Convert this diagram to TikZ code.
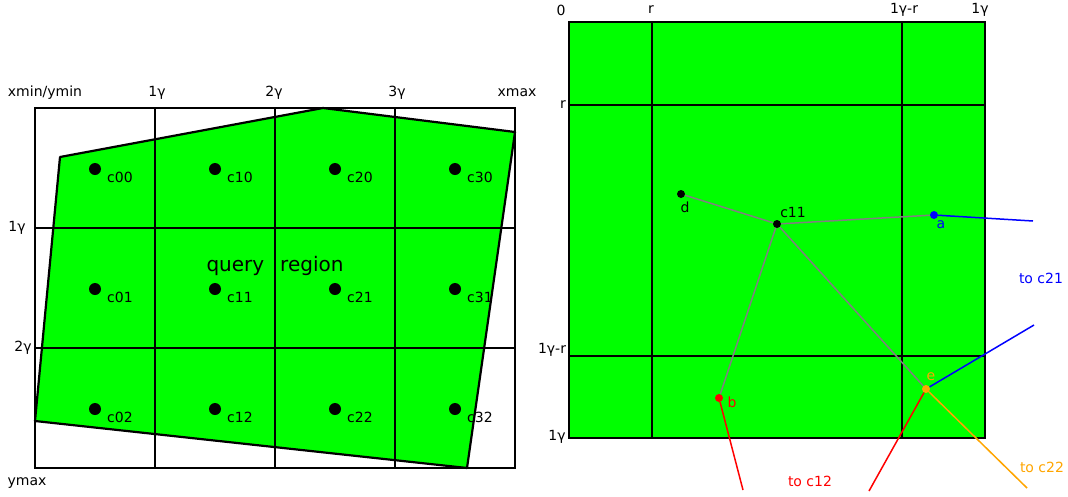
\documentclass[tikz,border=0pt]{standalone}
\usepackage{fontspec}
\setmainfont{DejaVu Sans}
\definecolor{qgreen}{RGB}{0,255,0}
\definecolor{qorange}{RGB}{255,165,0}
\begin{document}
\begin{tikzpicture}[x=1pt,y=-1pt,
  lbl/.style={font=\fontsize{14}{14}\selectfont, inner sep=0pt},
  bigdot/.style={circle, fill=black, minimum size=12pt, inner sep=0pt},
  smalldot/.style={circle, minimum size=8pt, inner sep=0pt},
  gridline/.style={line width=2.2pt, black},
  link/.style={line width=1.5pt, gray},
  outline/.style={line width=2.7pt, black}]
\useasboundingbox (0,0) rectangle (1068,496);
% ---------- left panel ----------
\fill[qgreen] (60,157) -- (323,108) -- (515,132) -- (467,468) -- (35,421) -- cycle;
\foreach \x in {155,275,395} \draw[gridline] (\x,108) -- (\x,468);
\foreach \y in {228,348} \draw[gridline] (35,\y) -- (515,\y);
\draw[outline] (35,108) rectangle (515,468);
\draw[line width=2.2pt, line join=round] (60,157) -- (323,108) -- (515,132) -- (467,468) -- (35,421) -- cycle;
\foreach \i/\x in {0/95,1/215,2/335,3/455}{
  \foreach \j/\y in {0/169,1/289,2/409}{
    \node[bigdot] (c\i\j) at (\x,\y) {};
    \node[lbl, anchor=west] (l\i\j) at ([xshift=12pt,yshift=-8pt]c\i\j.center) {c\i\j};
  }
}
\node[lbl] (txmin) at (45,93) {xmin/ymin};
\node[lbl] (t1g) at (157,93) {1γ};
\node[lbl] (t2g) at (274,93) {2γ};
\node[lbl] (t3g) at (397,93) {3γ};
\node[lbl] (txmax) at (517,93) {xmax};
\node[lbl] (l1g) at (17,228) {1γ};
\node[lbl] (l2g) at (23,348) {2γ};
\node[lbl] (lymax) at (27,483) {ymax};
\node[font=\fontsize{20}{20}\selectfont, inner sep=0pt] (qr) at (275,266) {query\hspace{0.8em}region};
% ---------- right panel ----------
\fill[qgreen] (569,22) rectangle (985,438);
\draw[gridline] (652,22) -- (652,438);
\draw[gridline] (902,22) -- (902,438);
\draw[gridline] (569,105) -- (985,105);
\draw[gridline] (569,356) -- (985,356);
\draw[outline] (569,22) rectangle (985,438);
\node[lbl] (r0) at (561,10) {0};
\node[lbl] (rr) at (651,10) {r};
\node[lbl] (rgr) at (904,10) {1γ-r};
\node[lbl] (rg) at (980,10) {1γ};
\node[lbl] (vr) at (563,105) {r};
\node[lbl] (vgr) at (552,350) {1γ-r};
\node[lbl] (vg) at (557,437) {1γ};
\node[smalldot, fill=black] (d) at (681,194) {};
\node[smalldot, fill=black] (c11r) at (777,224) {};
\node[smalldot, fill=blue] (a) at (934,215) {};
\node[smalldot, fill=red] (b) at (719,398) {};
\node[smalldot, fill=qorange] (e) at (926,389) {};
\coordinate (aend) at (1033,221);
\coordinate (eblue) at (1034,325);
\coordinate (bend) at (743,490);
\coordinate (ered) at (869,491);
\coordinate (eor) at (1027,488);
\draw[link] (d) -- (c11r);
\draw[link] (c11r) -- (a);
\draw[link] (c11r) -- (b);
\draw[link] (c11r) -- (e);
\draw[line width=1.5pt, blue] (a) -- (aend);
\draw[line width=1.5pt, blue] (e) -- (eblue);
\draw[line width=1.5pt, red] (b) -- (bend);
\draw[line width=1.5pt, red] (e) -- (ered);
\draw[line width=1.5pt, qorange] (e) -- (eor);
\node[lbl] (ld) at (685,207) {d};
\node[lbl] (lc11) at (793,212) {c11};
\node[lbl, text=blue] (la) at (941,225) {a};
\node[lbl, text=red] (lb) at (732,402) {b};
\node[lbl, text=qorange] (le) at (931,377) {e};
\node[lbl, text=blue] (tc21) at (1041,278) {to c21};
\node[lbl, text=red] (tc12) at (810,481) {to c12};
\node[lbl, text=qorange] (tc22) at (1042,467) {to c22};
\end{tikzpicture}
\end{document}
